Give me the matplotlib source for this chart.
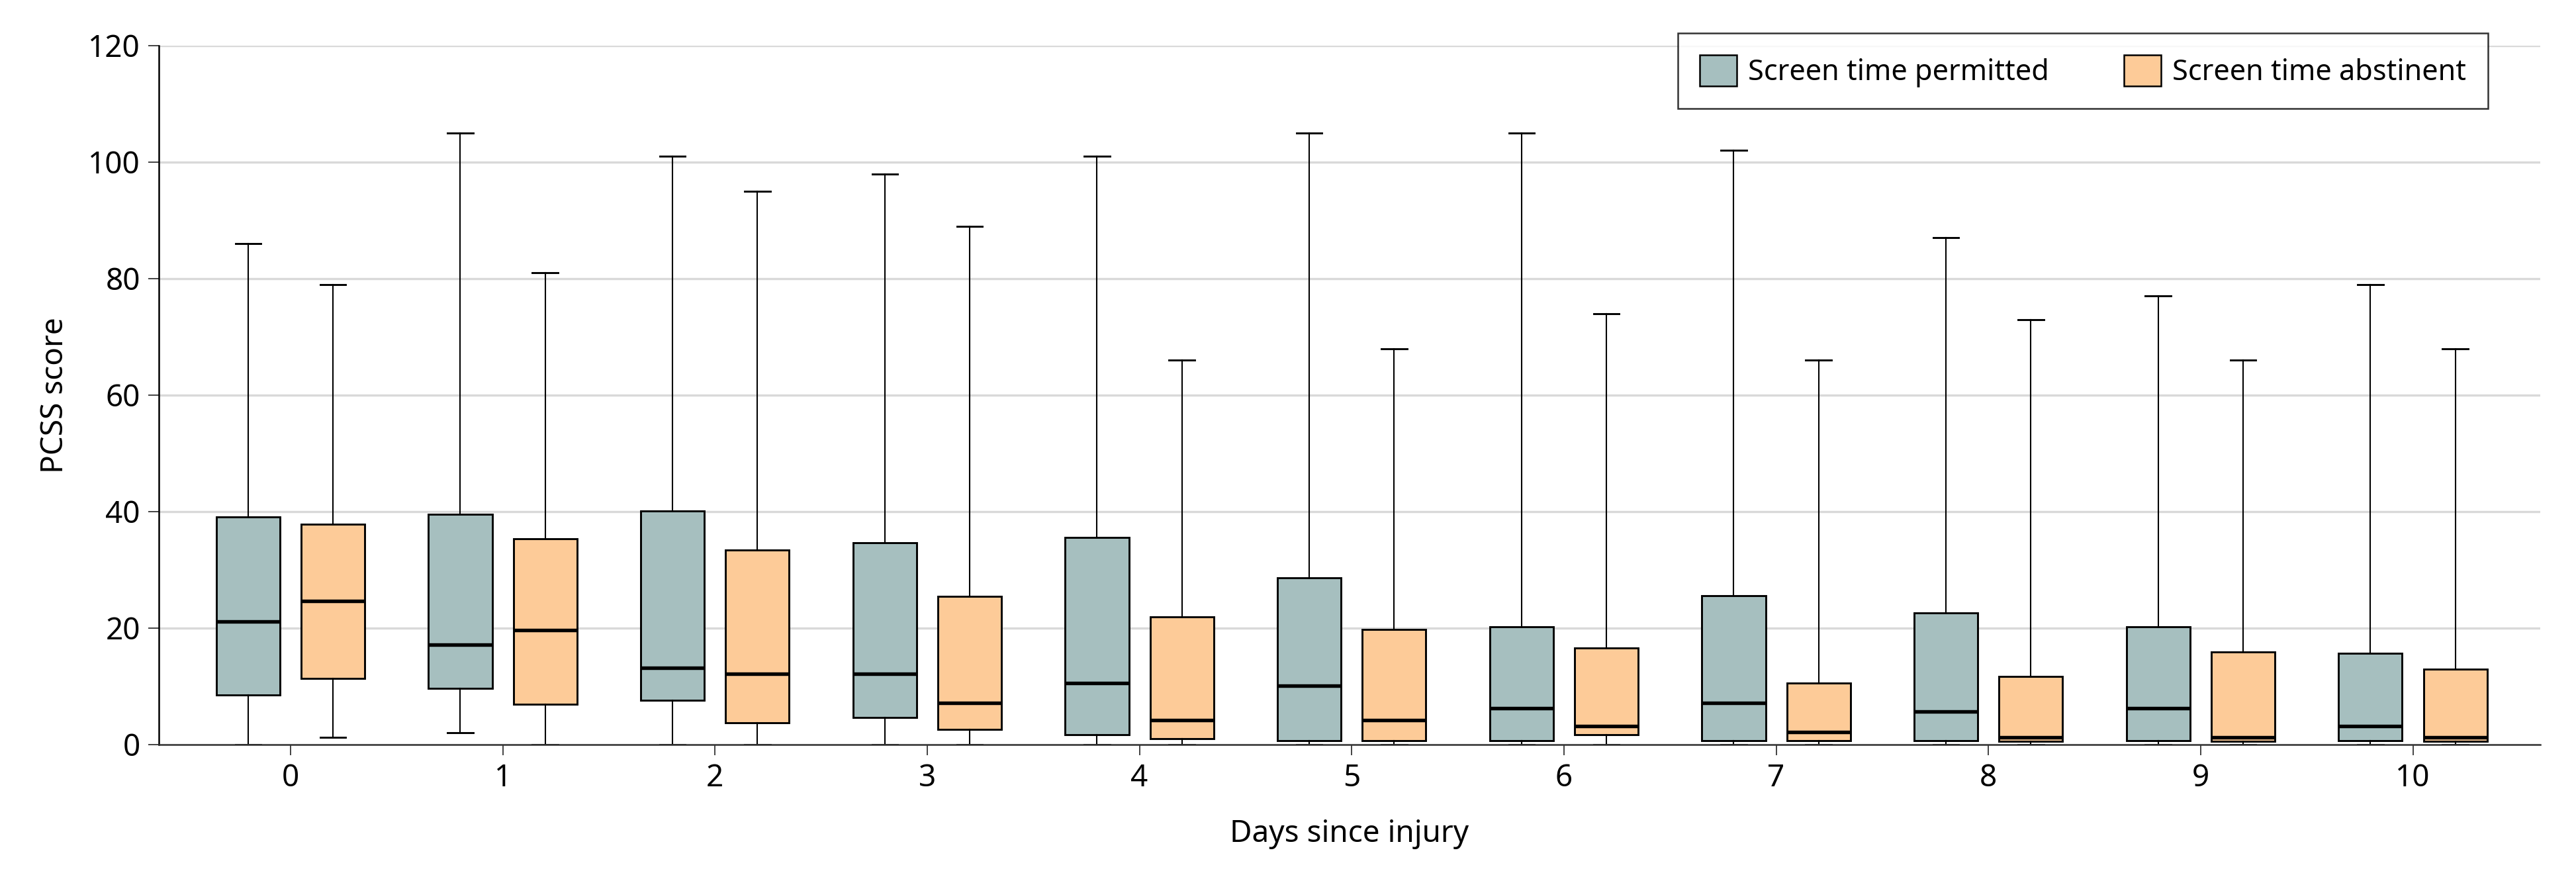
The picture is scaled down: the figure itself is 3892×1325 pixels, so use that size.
import matplotlib
matplotlib.use("Agg")
import matplotlib.pyplot as plt
from matplotlib.patches import Patch

plt.rcParams['font.family'] = ['Noto Sans', 'DejaVu Sans']

# days since injury
days = [0, 1, 2, 3, 4, 5, 6, 7, 8, 9, 10]

# screen time permitted: whisker low, Q1, median, Q3, whisker high
perm_lo = [0, 2, 0, 0, 0, 0, 0, 0, 0, 0, 0]
perm_q1 = [8.5, 9.7, 7.6, 4.7, 1.7, 0.7, 0.7, 0.7, 0.7, 0.7, 0.7]
perm_med = [21.1, 17.1, 13.2, 12.2, 10.6, 10.1, 6.2, 7.2, 5.7, 6.2, 3.2]
perm_q3 = [39.1, 39.5, 40.1, 34.6, 35.6, 28.6, 20.2, 25.6, 22.6, 20.2, 15.7]
perm_hi = [86, 105, 101, 98, 101, 105, 105, 102, 87, 77, 79]

# screen time abstinent
abst_lo = [1.2, 0, 0, 0, 0, 0, 0, 0, 0, 0, 0]
abst_q1 = [11.4, 6.9, 3.7, 2.6, 1.0, 0.7, 1.7, 0.7, 0.6, 0.6, 0.6]
abst_med = [24.6, 19.6, 12.2, 7.2, 4.2, 4.2, 3.2, 2.2, 1.2, 1.2, 1.2]
abst_q3 = [37.8, 35.3, 33.4, 25.4, 21.9, 19.8, 16.6, 10.6, 11.7, 15.9, 12.9]
abst_hi = [79, 81, 95, 89, 66, 68, 74, 66, 73, 66, 68]

labels = ["Screen time permitted", "Screen time abstinent"]
colors = ["#a6bfbf", "#fdcb98"]


def make_stats(lo, q1, med, q3, hi):
    return [dict(whislo=a, q1=b, med=c, q3=d, whishi=e, fliers=[])
            for a, b, c, d, e in zip(lo, q1, med, q3, hi)]


fig = plt.figure(figsize=(3892 / 300, 1325 / 300), dpi=300)
ax = fig.add_axes([0.0617, 0.151, 0.9244, 0.797])

offset = 0.2
groups = [
    (make_stats(perm_lo, perm_q1, perm_med, perm_q3, perm_hi), -offset, colors[0]),
    (make_stats(abst_lo, abst_q1, abst_med, abst_q3, abst_hi), offset, colors[1]),
]
for stats, off, col in groups:
    ax.bxp(stats, positions=[d + off for d in days], widths=0.3,
           capwidths=0.12, patch_artist=True, showfliers=False,
           boxprops=dict(facecolor=col, edgecolor="black", linewidth=0.7),
           medianprops=dict(color="black", linewidth=1.3),
           whiskerprops=dict(color="black", linewidth=0.5),
           capprops=dict(color="black", linewidth=0.7),
           manage_ticks=False, zorder=3)

ax.set_xlim(-0.62, 10.6)
ax.set_ylim(0, 120)
ax.set_xticks(days)
ax.set_xticklabels([str(d) for d in days])
ax.set_yticks(range(0, 121, 20))

ax.yaxis.grid(True, color="#d9d9d9", linewidth=0.8)
ax.set_axisbelow(True)
for s in ["top", "right"]:
    ax.spines[s].set_visible(False)
ax.spines["left"].set_linewidth(0.6)
ax.spines["left"].set_color("black")
ax.spines["bottom"].set_linewidth(0.6)
ax.spines["bottom"].set_color("#333333")
ax.spines["bottom"].set_zorder(5)

ax.tick_params(axis="both", direction="out", length=3.8, width=0.4,
               labelsize=11, pad=3, color="#222222")

ax.set_xlabel("Days since injury", fontsize=11, labelpad=9)
ax.set_ylabel("PCSS score", fontsize=11, labelpad=6.5)

handles = [Patch(facecolor=c, edgecolor="black", linewidth=0.6) for c in colors]
leg = ax.legend(handles, labels, ncol=2, loc="upper right",
                bbox_to_anchor=(3759 / 3892, 1 - 50 / 1325),
                bbox_transform=fig.transFigure, borderaxespad=0,
                fontsize=10.4, frameon=True, fancybox=False,
                handlelength=1.3, handleheight=1.3, handletextpad=0.4,
                columnspacing=2.6, borderpad=0.75)
leg.get_frame().set_edgecolor("black")
leg.get_frame().set_linewidth(0.6)

fig.savefig("out.png", dpi=300)
